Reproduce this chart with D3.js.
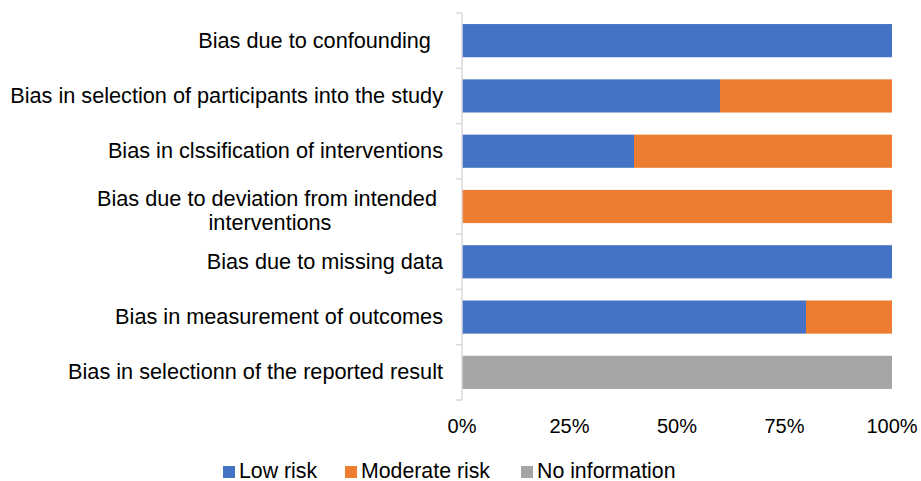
<!DOCTYPE html>
<html><head><meta charset="utf-8">
<script src="https://cdn.jsdelivr.net/npm/d3@7"></script>
<style>
body{margin:0;background:#fff;}
text{font-family:"Liberation Sans",Arial,sans-serif;fill:#000;white-space:pre;}
</style></head>
<body><svg id="c" width="921" height="481"></svg>
<script>
const categories = [
  ["Bias due to confounding  "],
  ["Bias in selection of participants into the study"],
  ["Bias in clssification of interventions"],
  ["Bias due to deviation from intended ", "interventions"],
  ["Bias due to missing data"],
  ["Bias in measurement of outcomes"],
  ["Bias in selectionn of the reported result"]
];
const seriesNames = ["Low risk", "Moderate risk", "No information"];
const seriesColors = ["#4472C4", "#ED7D31", "#A5A5A5"];
const lowRisk = [1.0, 0.6, 0.4, 0.0, 1.0, 0.8, 0.0];
const moderateRisk = [0.0, 0.4, 0.6, 1.0, 0.0, 0.2, 0.0];
const noInformation = [0.0, 0.0, 0.0, 0.0, 0.0, 0.0, 1.0];
const xTicks = [0, 0.25, 0.5, 0.75, 1.0];

(function(){
const svg = d3.select("#c");
const pL = 462, pR = 892, pT = 13, pB = 400;
const idx = d3.range(categories.length);
const y = d3.scaleBand().domain(idx).range([pT, pB]).paddingInner(0.4).paddingOuter(0.2);
const yOuter = d3.scaleBand().domain(idx).range([pT, pB]);
const x = d3.scaleLinear().domain([0, 1]).range([pL, pR]);

const rows = idx.map(i => ({i, "Low risk": lowRisk[i], "Moderate risk": moderateRisk[i], "No information": noInformation[i]}));
const stack = d3.stack().keys(seriesNames)(rows);

svg.append("g").selectAll("g").data(stack).join("g")
  .attr("fill", (d, k) => seriesColors[k])
  .selectAll("rect").data(d => d).join("rect")
  .attr("x", d => x(d[0]))
  .attr("y", d => y(d.data.i))
  .attr("width", d => x(d[1]) - x(d[0]))
  .attr("height", y.bandwidth());

const ax = svg.append("g").attr("stroke", "#D9D9D9").attr("stroke-width", 1.5);
ax.append("line").attr("x1", pL).attr("x2", pL).attr("y1", pT).attr("y2", pB);
const tickYs = idx.map(i => yOuter(i)).concat([pB]);
ax.selectAll("line.t").data(tickYs).join("line").attr("class", "t")
  .attr("x1", pL - 6).attr("x2", pL).attr("y1", d => d).attr("y2", d => d);

const labelRight = 443;
idx.forEach(i => {
  const lines = categories[i];
  const cy = yOuter(i) + yOuter.bandwidth() / 2;
  const lh = 24.3;
  const extra = lines.length > 1 ? 4.4 : 0;
  const t = svg.append("text").attr("font-size", 21.7).attr("text-anchor", "middle");
  lines.forEach((ln, j) => {
    t.append("tspan").attr("x", 0).attr("y", cy + 7 + extra + (j - (lines.length - 1) / 2) * lh).text(ln);
  });
  const w = d3.max(t.selectAll("tspan").nodes(), n => n.getComputedTextLength());
  t.selectAll("tspan").attr("x", labelRight - w / 2);
});

svg.append("g").selectAll("text").data(xTicks).join("text")
  .attr("x", d => x(d)).attr("y", 433).attr("font-size", 20).attr("text-anchor", "middle")
  .text(d => d3.format(".0%")(d));

const legendXs = [223, 345, 521];
const lg = svg.append("g").selectAll("g").data(seriesNames).join("g")
  .attr("transform", (d, k) => `translate(${legendXs[k]},0)`);
lg.append("rect").attr("x", 0).attr("y", 466).attr("width", 12).attr("height", 12)
  .attr("fill", (d, k) => seriesColors[k]);
lg.append("text").attr("x", 16).attr("y", 477.5).attr("font-size", 21.3).text(d => d);
})();
</script></body></html>
